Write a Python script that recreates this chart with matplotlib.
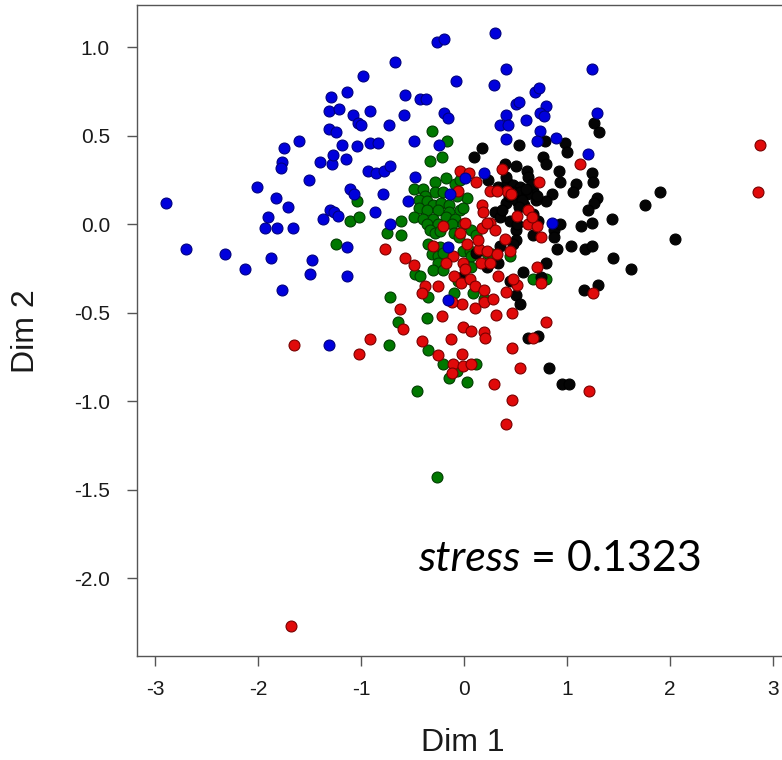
import matplotlib
matplotlib.use("Agg")
import matplotlib.pyplot as plt
import numpy as np

plt.rcParams['axes.unicode_minus'] = False
plt.rcParams['font.family'] = ['Liberation Sans', 'DejaVu Sans']

# ---- data (Dim 1, Dim 2) per group ----
blue_pts = [(-2.89,0.12),(-2.70,-0.14),(-2.32,-0.17),(-2.13,-0.25),(-1.87,-0.19),(-1.77,-0.37),(-1.50,-0.28),(-1.48,-0.20),(-1.14,-0.29),(-1.14,-0.13),
            (-2.01,0.21),(-1.83,0.15),(-1.71,0.10),(-1.90,0.04),(-1.93,-0.02),(-1.82,-0.02),(-1.66,-0.02),(-1.37,0.03),(-1.51,0.25),(-1.75,0.43),
            (-1.77,0.35),(-1.78,0.32),(-1.60,0.47),(-1.40,0.35),(-1.28,0.34),(-1.27,0.39),(-1.15,0.37),(-1.18,0.45),(-1.04,0.44),(-1.31,0.54),
            (-1.24,0.52),(-1.31,0.64),(-1.21,0.65),(-1.29,0.72),(-1.14,0.75),(-1.08,0.62),(-1.03,0.57),(-1.00,0.56),(-0.98,0.84),(-0.91,0.64),
            (-0.73,0.56),(-0.67,0.92),(-0.57,0.73),(-0.43,0.71),(-0.37,0.71),(-0.58,0.62),(-0.91,0.46),(-0.84,0.46),(-0.93,0.30),(-0.85,0.29),
            (-0.78,0.30),(-0.72,0.33),(-0.49,0.47),(-1.11,0.20),(-1.07,0.17),(-1.30,0.08),(-1.26,0.07),(-1.22,0.05),(-0.79,0.17),(-0.86,0.07),
            (-0.54,0.13),(-0.48,0.27),(-0.72,0.00),(-0.26,1.03),(-0.19,1.05),(-0.08,0.81),(-0.19,0.63),(-0.16,0.60),(-0.24,0.45),(-0.16,-0.13),
            (-0.16,-0.43),(-0.14,0.17),(0.30,1.08),(0.41,0.88),(1.24,0.88),(0.29,0.79),(0.69,0.75),(0.73,0.77),(0.50,0.68),(0.53,0.69),
            (0.80,0.67),(0.41,0.62),(0.60,0.59),(0.74,0.63),(0.78,0.61),(0.35,0.56),(0.43,0.56),(1.29,0.63),(0.74,0.53),(0.41,0.48),
            (0.71,0.47),(0.89,0.49),(1.20,0.40),(0.19,0.29),(0.01,0.26),(0.85,0.01),(-1.31,-0.68)]

green_pts = [(-1.04,0.13),(-1.11,0.02),(-1.02,0.04),(-1.24,-0.11),(-0.31,0.53),(-0.17,0.47),(-0.33,0.36),(-0.21,0.38),(-0.61,0.02),(-0.75,-0.05),
             (-0.61,-0.06),(-0.49,0.20),(-0.72,-0.41),(-0.64,-0.55),(-0.35,-0.41),(-0.36,-0.53),(-0.28,0.24),(-0.18,0.26),(-0.40,0.20),(-0.09,0.23),
             (-0.04,0.25),(-0.28,0.18),(-0.20,0.18),(-0.38,0.16),(-0.44,0.14),(-0.36,0.13),(0.03,0.15),(-0.07,0.16),(-0.30,0.11),(-0.22,0.12),
             (-0.15,0.11),(-0.44,0.09),(-0.36,0.08),(-0.25,0.08),(-0.15,0.07),(-0.04,0.08),(-0.01,0.09),(-0.49,0.04),(-0.40,0.03),(-0.30,0.03),
             (-0.18,0.04),(-0.09,0.03),(-0.36,0.00),(-0.25,0.00),(-0.12,0.00),(-0.01,0.00),(-0.33,-0.03),(-0.10,-0.05),(-0.05,-0.07),(0.07,-0.03),
             (0.12,-0.06),(-0.35,-0.11),(-0.23,-0.13),(-0.28,-0.05),(-0.23,-0.04),(-0.31,-0.17),(-0.25,-0.18),(-0.20,-0.16),(-0.25,-0.22),(-0.30,-0.26),
             (-0.20,-0.26),(-0.01,-0.15),(0.06,-0.15),(0.07,-0.18),(-0.48,-0.28),(-0.43,-0.29),(0.07,-0.24),(0.09,-0.39),(-0.10,-0.39),(0.22,-0.16),
             (0.27,-0.17),(0.19,-0.42),(-0.06,-0.32),(0.45,-0.18),(0.67,-0.31),(0.80,-0.31),(-0.73,-0.68),(-0.35,-0.71),(-0.20,-0.79),(-0.07,-0.83),
             (-0.15,-0.87),(0.12,-0.79),(0.03,-0.89),(-0.46,-0.94),(-0.26,-1.43)]

black_pts = [(1.26,0.57),(1.31,0.52),(0.79,0.47),(0.53,0.45),(0.17,0.43),(0.10,0.38),(0.98,0.46),(1.00,0.41),(0.77,0.38),(0.80,0.34),
             (0.40,0.34),(0.50,0.33),(0.61,0.30),(0.62,0.27),(0.92,0.30),(0.93,0.24),(1.24,0.29),(1.25,0.24),(0.23,0.25),(1.09,0.23),
             (1.06,0.18),(1.29,0.15),(1.26,0.12),(1.20,0.08),(1.24,0.01),(1.14,-0.01),(1.44,0.03),(1.76,0.11),(1.90,0.18),(2.05,-0.08),
             (1.45,-0.19),(1.62,-0.25),(1.17,-0.14),(1.24,-0.12),(1.04,-0.12),(0.87,-0.03),(0.93,0.00),(0.90,-0.14),(0.80,-0.22),(0.57,-0.27),
             (0.45,-0.32),(0.50,-0.40),(0.54,-0.45),(1.16,-0.37),(1.30,-0.34),(0.33,0.21),(0.42,0.24),(0.85,0.17),(0.80,0.13),(0.67,0.19),
             (0.70,0.14),(0.30,0.07),(0.35,0.04),(0.41,0.12),(0.50,-0.03),(0.50,-0.09),(0.35,-0.12),(0.33,-0.22),(0.22,-0.24),(0.75,-0.30),
             (0.66,0.23),(0.41,0.27),(0.48,0.22),(0.54,0.21),(0.48,0.18),(0.54,0.18),(0.61,0.17),(0.51,0.13),(0.58,0.11),(0.71,0.16),
             (0.37,0.08),(0.67,0.06),(0.72,0.02),(0.45,0.02),(0.51,0.00),(0.67,-0.06),(0.87,-0.07),(0.48,-0.11),(0.62,-0.64),(0.72,-0.63),
             (0.82,-0.81),(0.95,-0.90),(1.02,-0.90),(-0.02,-0.30),(0.12,-0.16),(0.56,0.14),(0.53,0.10),(0.60,0.20),(0.44,0.16)]

red_pts = [(2.87,0.45),(2.85,0.18),(1.13,0.34),(0.37,0.31),(-0.04,0.30),(0.05,0.29),(0.12,0.24),(0.25,0.19),(0.73,0.24),(0.17,0.11),
           (0.18,0.07),(0.42,0.19),(0.62,0.00),(0.71,-0.01),(0.75,-0.07),(0.25,0.01),(0.30,-0.03),(0.40,-0.08),(0.45,-0.15),(0.15,-0.14),
           (0.22,-0.15),(0.32,-0.17),(0.33,-0.29),(0.71,-0.24),(0.41,-0.38),(0.51,-0.34),(0.75,-0.33),(0.80,-0.55),(0.31,-0.51),(0.47,-0.50),
           (1.25,-0.39),(0.19,-0.44),(0.11,-0.47),(-0.02,-0.45),(-0.12,-0.44),(-0.21,-0.52),(-0.25,-0.35),(-0.38,-0.35),(-0.41,-0.39),(-0.57,-0.19),
           (-0.49,-0.23),(-0.30,-0.12),(-0.11,-0.18),(-0.01,-0.22),(0.01,-0.25),(-0.10,-0.29),(-0.03,-0.33),(0.06,-0.31),(0.11,-0.35),(0.19,-0.37),
           (0.17,-0.02),(0.01,0.01),(0.14,-0.09),(-0.20,-0.01),(-0.06,0.19),(0.32,0.19),(0.22,0.01),(0.46,0.17),(0.62,0.08),(0.66,0.04),
           (0.51,0.05),(-0.77,-0.14),(-0.18,-0.22),(0.28,-0.42),(-0.62,-0.48),(-0.59,-0.59),(-0.01,-0.58),(0.07,-0.60),(0.19,-0.61),(0.20,-0.64),
           (0.16,-0.22),(0.25,-0.22),(-0.04,-0.05),(0.03,-0.11),(0.48,-0.31),(0.67,-0.64),(-0.41,-0.66),(-0.13,-0.65),(-0.25,-0.74),(-0.02,-0.73),
           (-0.11,-0.79),(-0.01,-0.80),(0.07,-0.79),(-0.12,-0.84),(0.47,-0.70),(0.54,-0.81),(0.29,-0.90),(0.47,-0.99),(0.41,-1.13),(1.21,-0.94),
           (-1.65,-0.68),(-0.91,-0.65),(-1.02,-0.73),(-1.68,-2.27)]

x_ticks = [-3, -2, -1, 0, 1, 2, 3]
y_ticks = [1.0, 0.5, 0.0, -0.5, -1.0, -1.5, -2.0]
stress_value = "0.1323"

groups = [
    (green_pts, '#007800', '#003c00'),
    (black_pts, '#050505', '#000000'),
    (red_pts,   '#e00a0a', '#780000'),
    (blue_pts,  '#0000dc', '#000080'),
]

fig = plt.figure(figsize=(7.82, 7.60), dpi=100)
ax = fig.add_axes([0.1752, 0.1368, 0.8397, 0.857])

for pts, fc, ec in groups:
    arr = np.array(pts)
    ax.scatter(arr[:, 0], arr[:, 1], s=62, c=fc, edgecolors=ec, linewidths=0.8, zorder=3)

ax.set_xlim(-3.175, 3.2)
ax.set_ylim(-2.439, 1.241)
ax.set_xticks(x_ticks)
ax.set_xticklabels([str(t) for t in x_ticks])
ax.set_yticks(y_ticks)
ax.set_yticklabels([f"{t:.1f}" for t in y_ticks])

for side in ['left', 'bottom', 'top']:
    ax.spines[side].set_color('#555555')
    ax.spines[side].set_linewidth(1.0)
ax.spines['right'].set_visible(False)

ax.tick_params(axis='x', length=7.5, width=1, color='#555555', pad=10,
               labelsize=15, labelcolor='#1a1a1a')
ax.tick_params(axis='y', length=7.5, width=1, color='#555555', pad=12,
               labelsize=15, labelcolor='#1a1a1a')

fig.text(463/782, (760-743)/760, 'Dim 1', ha='center', va='center', fontsize=23, color='#1a1a1a')
fig.text(26/782, (760-331)/760, 'Dim 2', ha='center', va='center', fontsize=23,
         rotation=90, color='#1a1a1a')

t1 = ax.text(-0.447, -1.959, 'stress', fontsize=31, style='italic',
             family=['Lato', 'DejaVu Sans'], va='baseline', ha='left', color='black')
ax.annotate(' = ' + stress_value, xy=(1, 0), xycoords=t1, va='bottom', ha='left',
            fontsize=31, family=['Lato', 'DejaVu Sans'], color='black')

fig.savefig('out.png', dpi=100, facecolor='white')
